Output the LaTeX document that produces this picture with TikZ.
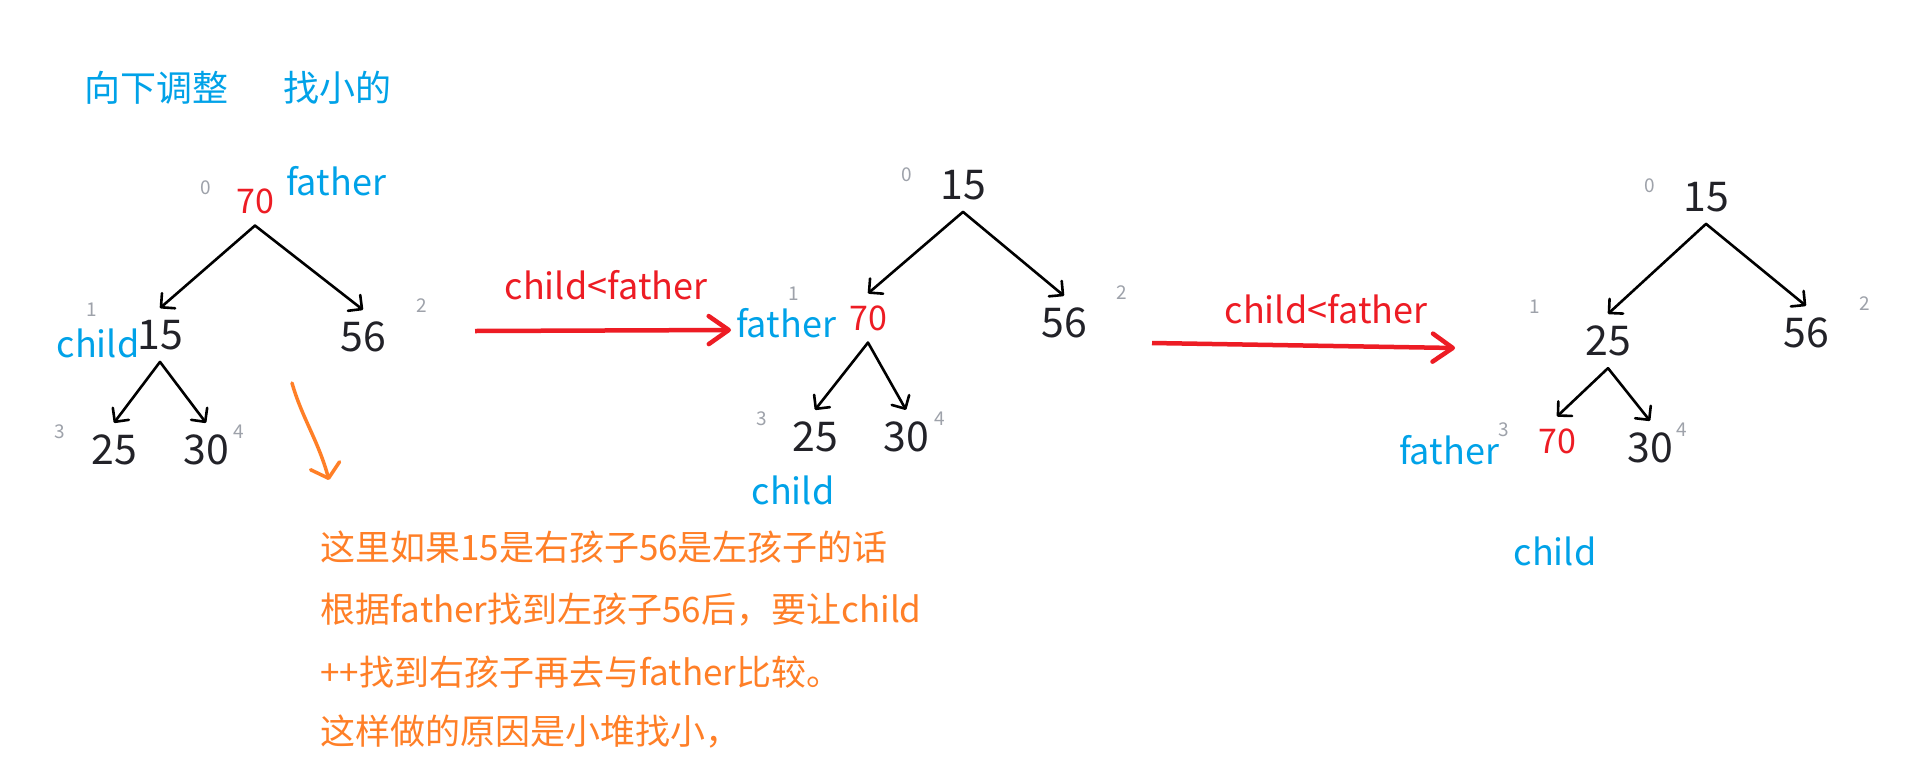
\documentclass[tikz,border=0pt]{standalone}
\usepackage{fontspec}
\setmainfont{Noto Sans CJK SC}
\usetikzlibrary{arrows.meta}
\definecolor{paintred}{RGB}{237,28,36}
\definecolor{paintorange}{RGB}{255,127,39}
\definecolor{paintblue}{RGB}{0,162,232}
\definecolor{idxgray}{RGB}{158,162,170}
\definecolor{numblack}{RGB}{34,34,40}
\tikzset{
  num/.style={inner sep=0pt, outer ysep=12pt, text=numblack, font=\fontsize{41}{41}\selectfont},
  hot/.style={num, text=paintred, font=\fontsize{34}{34}\selectfont},
  idx/.style={inner sep=0pt, text=idxgray, font=\fontsize{19}{19}\selectfont},
  ptr/.style={inner sep=0pt, text=paintblue, font=\fontsize{36}{36}\selectfont},
  swap/.style={inner sep=0pt, text=paintred, font=\fontsize{36}{36}\selectfont},
  note/.style={inner sep=0pt, anchor=west, text=paintorange, font=\fontsize{35}{35}\selectfont},
  tarrow/.style={line width=2.6pt, line cap=round, -{Straight Barb[length=10pt,width=20pt,round]}},
  rarrow/.style={draw=paintred, line width=4.5pt, -{Straight Barb[length=20pt,width=28pt,round]}},
  oarrow/.style={draw=paintorange, line width=3.5pt, line cap=round, -{Straight Barb[length=13pt,width=30pt,round]}}
}
\begin{document}
\begin{tikzpicture}[x=1pt,y=-1pt]
  \fill[white] (0,0) rectangle (1911,777);
  \useasboundingbox (0,0) rectangle (1911,777);

  % title
  \node[ptr] (title1) at (156,88) {向下调整};
  \node[ptr] (title2) at (337,88) {找小的};

  % first heap
  \node[hot] (t1r) at (255,201) {70};
  \node[num] (t1a) at (160,335) {15};
  \node[num] (t1b) at (363,337) {56};
  \node[num] (t1c) at (114,450) {25};
  \node[num] (t1d) at (206,450) {30};
  \node[idx] (i10) at (206,188) {0};
  \node[idx] (i11) at (92,310) {1};
  \node[idx] (i12) at (422,306) {2};
  \node[idx] (i13) at (60,432) {3};
  \node[idx] (i14) at (239,432) {4};
  \node[ptr] (f1) at (336,181) {father};
  \node[ptr] (c1) at (98,343) {child};
  \draw[tarrow] (t1r.south) -- (t1a.north);
  \draw[tarrow] (t1r.south) -- (t1b.north);
  \draw[tarrow] (t1a.south) -- (t1c.north);
  \draw[tarrow] (t1a.south) -- (t1d.north);

  % second heap
  \node[num] (t2r) at (963,185) {15};
  \node[hot] (t2a) at (868,318) {70};
  \node[num] (t2b) at (1064,323) {56};
  \node[num] (t2c) at (815,437) {25};
  \node[num] (t2d) at (906,437) {30};
  \node[idx] (i20) at (907,175) {0};
  \node[idx] (i21) at (794,294) {1};
  \node[idx] (i22) at (1122,293) {2};
  \node[idx] (i23) at (762,419) {3};
  \node[idx] (i24) at (940,419) {4};
  \node[ptr] (f2) at (786,323) {father};
  \node[ptr] (c2) at (793,490) {child};
  \draw[tarrow] (t2r.south) -- (t2a.north);
  \draw[tarrow] (t2r.south) -- (t2b.north);
  \draw[tarrow] (t2a.south) -- (t2c.north);
  \draw[tarrow] (t2a.south) -- (t2d.north);

  % third heap
  \node[num] (t3r) at (1706,197) {15};
  \node[num] (t3a) at (1608,341) {25};
  \node[num] (t3b) at (1806,333) {56};
  \node[hot] (t3c) at (1557,441) {70};
  \node[num] (t3d) at (1650,448) {30};
  \node[idx] (i30) at (1650,186) {0};
  \node[idx] (i31) at (1535,307) {1};
  \node[idx] (i32) at (1865,304) {2};
  \node[idx] (i33) at (1504,430) {3};
  \node[idx] (i34) at (1682,430) {4};
  \node[ptr] (f3) at (1449,450) {father};
  \node[ptr] (c3) at (1555,551) {child};
  \draw[tarrow] (t3r.south) -- (t3a.north);
  \draw[tarrow] (t3r.south) -- (t3b.north);
  \draw[tarrow] (t3a.south) -- (t3c.north);
  \draw[tarrow] (t3a.south) -- (t3d.north);

  % swaps
  \coordinate (s1a) at (475,331);
  \coordinate (s1b) at (731,330);
  \coordinate (s2a) at (1152,343);
  \coordinate (s2b) at (1455,348);
  \draw[rarrow] (s1a) -- (s1b);
  \draw[rarrow] (s2a) -- (s2b);
  \node[swap] (cmp1) at (606,285) {child<father};
  \node[swap] (cmp2) at (1326,309) {child<father};

  % remark
  \coordinate (o1) at (292,383);
  \coordinate (o2) at (329,480);
  \draw[oarrow] (o1) .. controls (302,418) and (318,440) .. (o2);
  \node[note] (n1) at (320,547) {这里如果15是右孩子56是左孩子的话};
  \node[note] (n2) at (320,610) {根据father找到左孩子56后，要让child};
  \node[note] (n3) at (320,672) {++找到右孩子再去与father比较。};
  \node[note] (n4) at (320,732) {这样做的原因是小堆找小，};
\end{tikzpicture}
\end{document}
